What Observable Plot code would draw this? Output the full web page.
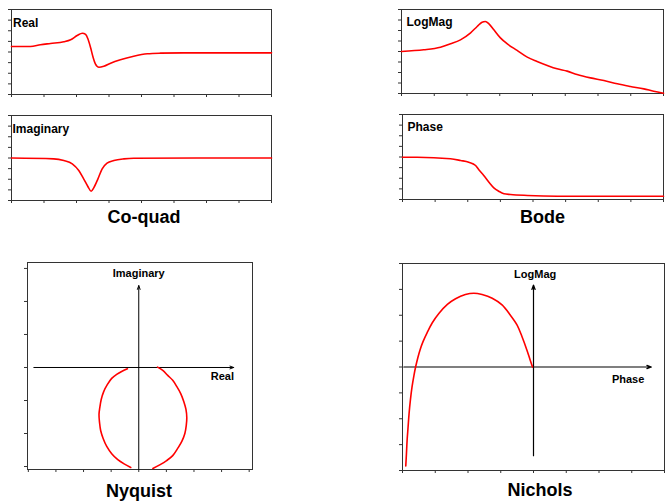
<!DOCTYPE html>
<html><head><meta charset="utf-8">
<script src="https://cdn.jsdelivr.net/npm/d3@7"></script>
<script src="https://cdn.jsdelivr.net/npm/@observablehq/plot@0.6"></script>
<style>
body{margin:0;background:#fff;}
#chart{position:relative;width:665px;height:502px;background:#fff;overflow:hidden;}
.title{position:absolute;width:200px;text-align:center;font:bold 18px/18px "Liberation Sans",Arial,sans-serif;color:#000;}
</style></head><body><div id="chart"></div>
<script>
// ---- Co-quad: real part vs frequency
const realFreq = [0, 0.58, 0.89, 1.2, 1.61, 1.82, 2.02, 2.18, 2.28, 2.35, 2.43, 2.51, 2.58, 2.69, 2.84, 3.05, 3.35, 3.76, 4.18, 4.58, 5.29, 6.83, 8];
const realVal  = [0.52, 0.52, 0.68, 0.8, 0.96, 1.15, 1.55, 1.77, 1.65, 1.24, 0.45, -0.49, -1.11, -1.43, -1.34, -1.05, -0.73, -0.4, -0.17, -0.11, -0.08, -0.08, -0.08];
// ---- Co-quad: imaginary part vs frequency
const imagFreq = [0, 1.3, 1.61, 1.87, 2.07, 2.22, 2.35, 2.45, 2.53, 2.66, 2.79, 2.94, 3.15, 3.46, 3.76, 8];
const imagVal  = [0, -0.08, -0.24, -0.55, -1.18, -1.96, -2.68, -3.13, -2.81, -1.96, -1.02, -0.49, -0.24, -0.08, -0.02, 0];
// ---- Bode: log magnitude vs frequency
const magFreq = [0, 0.68, 1.19, 1.5, 1.8, 2.11, 2.31, 2.46, 2.56, 2.67, 2.82, 3.02, 3.23, 3.53, 3.84, 4.14, 4.45, 4.75, 5.06, 5.36, 5.77, 6.18, 6.59, 6.99, 7.4, 7.7, 8];
const magVal  = [4.0, 4.16, 4.41, 4.73, 5.11, 5.78, 6.38, 6.79, 6.86, 6.64, 6.07, 5.3, 4.73, 4.1, 3.46, 3.05, 2.67, 2.35, 2.13, 1.81, 1.49, 1.24, 0.92, 0.67, 0.44, 0.22, 0.03];
// ---- Bode: phase vs frequency
const phaseFreq = [0, 0.45, 1.47, 1.78, 2.03, 2.24, 2.34, 2.49, 2.65, 2.8, 2.95, 3.11, 3.31, 3.83, 4.75, 8];
const phaseVal  = [3.98, 3.98, 3.83, 3.67, 3.51, 3.2, 2.8, 2.26, 1.63, 1.1, 0.78, 0.54, 0.47, 0.38, 0.31, 0.31];
// ---- Nyquist: real vs imaginary (two visible arcs)
const nyqLeftRe  = [-0.41, -0.62, -0.8, -0.98, -1.14, -1.27, -1.36, -1.41, -1.44, -1.42, -1.38, -1.29, -1.16, -0.98, -0.76, -0.53, -0.29];
const nyqLeftIm  = [-0.04, -0.12, -0.21, -0.33, -0.52, -0.73, -0.97, -1.21, -1.42, -1.67, -1.91, -2.15, -2.39, -2.61, -2.79, -2.92, -3.03];
const nyqRightRe = [0.68, 0.87, 1.05, 1.23, 1.38, 1.52, 1.63, 1.71, 1.74, 1.72, 1.67, 1.56, 1.41, 1.23, 1.01, 0.76, 0.51];
const nyqRightIm = [0.01, -0.09, -0.24, -0.39, -0.58, -0.79, -1.03, -1.27, -1.52, -1.76, -2.0, -2.24, -2.45, -2.67, -2.82, -2.95, -3.06];
// ---- Nichols: phase vs log magnitude
const nicPhase = [-3.9, -3.88, -3.86, -3.83, -3.8, -3.76, -3.71, -3.65, -3.6, -3.53, -3.46, -3.37, -3.25, -3.09, -2.89, -2.63, -2.38, -2.08, -1.82, -1.57, -1.26, -0.96, -0.71, -0.5, -0.35, -0.2, -0.1, -0.03];
const nicMag   = [-3.82, -3.36, -2.85, -2.33, -1.81, -1.29, -0.78, -0.32, 0, 0.37, 0.68, 0.99, 1.32, 1.71, 2.07, 2.42, 2.64, 2.8, 2.85, 2.8, 2.66, 2.4, 2.01, 1.62, 1.17, 0.65, 0.26, 0];
// ---- tick values
const ticks0to8 = [0, 1, 2, 3, 4, 5, 6, 7, 8];
const ticksM4to4 = [-4, -3, -2, -1, 0, 1, 2, 3, 4];
const ticksM3to3 = [-3, -2, -1, 0, 1, 2, 3];
// ---- labels
const panelTitles = ["Co-quad", "Bode", "Nyquist", "Nichols"];
const nyqAxes = [{x1: -3.8, y1: 0, x2: 3.44, y2: 0}, {x1: 0, y1: -3.09, x2: 0, y2: 2.48}];
const nyqLabels = [{x: 0, y: 2.74, text: "Imaginary", anchor: "middle"}, {x: 3.03, y: -0.39, text: "Real", anchor: "start"}];
const nicAxes = [{x1: -3.96, y1: 0, x2: 3.6, y2: 0}, {x1: 0, y1: -3.43, x2: 0, y2: 3.17}];
const nicLabels = [{x: 0.05, y: 3.43, text: "LogMag", anchor: "middle"}, {x: 2.89, y: -0.62, text: "Phase", anchor: "start"}];

const FONT = '"Liberation Sans", Arial, sans-serif';
const FRAME = "#333";
const RED = "#ff0000";
const chart = document.getElementById("chart");

const zip = (xs, ys) => xs.map((x, i) => ({x, y: ys[i]}));

function panel({left, top, width, height, m, xDomain, yDomain, xTicks, yTicks, marks}) {
  const svg = Plot.plot({
    width, height,
    marginTop: m[0], marginRight: m[1], marginBottom: m[2], marginLeft: m[3],
    x: {domain: xDomain, axis: null},
    y: {domain: yDomain, axis: null},
    style: {background: "transparent", fontFamily: FONT, overflow: "visible", color: "#000"},
    marks: [
      Plot.frame({stroke: FRAME, strokeWidth: 1}),
      Plot.axisX({ticks: xTicks, anchor: "bottom", tickSize: 3, tickFormat: () => "", label: null, stroke: FRAME}),
      Plot.axisY({ticks: yTicks, anchor: "left", tickSize: 3, tickFormat: () => "", label: null, stroke: FRAME}),
      ...marks
    ]
  });
  svg.style.position = "absolute";
  svg.style.left = left + "px";
  svg.style.top = top + "px";
  chart.appendChild(svg);
}

const cornerLabel = (t, dx, dy) => Plot.text([t], {frameAnchor: "top-left", dx, dy, textAnchor: "start", lineAnchor: "bottom", fontSize: 12, fontWeight: "bold", fill: "#000"});

// Co-quad Real
panel({left: 0, top: 0, width: 280, height: 105, m: [9, 9, 11, 11], xDomain: [0, 8], yDomain: [-4, 4], xTicks: ticks0to8, yTicks: ticksM4to4,
  marks: [Plot.line(zip(realFreq, realVal), {x: "x", y: "y", stroke: RED, strokeWidth: 1.6, curve: "monotone-x"}), cornerLabel("Real", 1.5, 17.5)]});
// Co-quad Imaginary
panel({left: 0, top: 105, width: 280, height: 105, m: [10, 9, 10, 11], xDomain: [0, 8], yDomain: [-4, 4], xTicks: ticks0to8, yTicks: ticksM4to4,
  marks: [Plot.line(zip(imagFreq, imagVal), {x: "x", y: "y", stroke: RED, strokeWidth: 1.6, curve: "monotone-x"}), cornerLabel("Imaginary", 1, 17.7)]});
// Bode LogMag
panel({left: 390, top: 0, width: 275, height: 105, m: [9, 2, 12, 11], xDomain: [0, 8], yDomain: [0, 8], xTicks: ticks0to8, yTicks: ticks0to8,
  marks: [Plot.line(zip(magFreq, magVal), {x: "x", y: "y", stroke: RED, strokeWidth: 1.6, curve: "monotone-x"}), cornerLabel("LogMag", 5, 16)]});
// Bode Phase
panel({left: 390, top: 105, width: 275, height: 105, m: [9, 2, 11, 12], xDomain: [0, 8], yDomain: [0, 8], xTicks: ticks0to8, yTicks: ticks0to8,
  marks: [Plot.line(zip(phaseFreq, phaseVal), {x: "x", y: "y", stroke: RED, strokeWidth: 1.6, curve: "monotone-x"}), cornerLabel("Phase", 5, 16)]});
// Nyquist
panel({left: 0, top: 250, width: 280, height: 230, m: [12, 28, 11, 27], xDomain: [-4.03, 4.12], yDomain: [-3.09, 3.18], xTicks: ticksM4to4, yTicks: ticksM3to3,
  marks: [
    Plot.arrow(nyqAxes, {x1: "x1", y1: "y1", x2: "x2", y2: "y2", stroke: "#000", strokeWidth: 1, headLength: 6, headAngle: 40}),
    Plot.line(zip(nyqLeftRe, nyqLeftIm), {x: "x", y: "y", stroke: RED, strokeWidth: 1.6, curve: "catmull-rom"}),
    Plot.line(zip(nyqRightRe, nyqRightIm), {x: "x", y: "y", stroke: RED, strokeWidth: 1.6, curve: "catmull-rom"}),
    Plot.text(nyqLabels, {x: "x", y: "y", text: "text", textAnchor: "anchor", lineAnchor: "bottom", fontSize: 11, fontWeight: "bold", fill: "#000"})
  ]});
// Nichols
panel({left: 385, top: 250, width: 280, height: 230, m: [13, 1, 10, 17], xDomain: [-4, 4], yDomain: [-4, 4], xTicks: ticksM4to4, yTicks: ticksM4to4,
  marks: [
    Plot.arrow(nicAxes, {x1: "x1", y1: "y1", x2: "x2", y2: "y2", stroke: "#000", strokeWidth: 1.2, headLength: 6, headAngle: 40}),
    Plot.line(zip(nicPhase, nicMag), {x: "x", y: "y", stroke: RED, strokeWidth: 1.6, curve: "catmull-rom"}),
    Plot.text(nicLabels, {x: "x", y: "y", text: "text", textAnchor: "anchor", lineAnchor: "bottom", fontSize: 11, fontWeight: "bold", fill: "#000"})
  ]});

// Titles under each group
const titlePos = [[44, 207.8], [442.5, 207.8], [39, 481.8], [440, 480.8]];
panelTitles.forEach((t, i) => {
  const d = document.createElement("div");
  d.className = "title";
  d.textContent = t;
  d.style.left = titlePos[i][0] + "px";
  d.style.top = titlePos[i][1] + "px";
  chart.appendChild(d);
});
</script></body></html>
